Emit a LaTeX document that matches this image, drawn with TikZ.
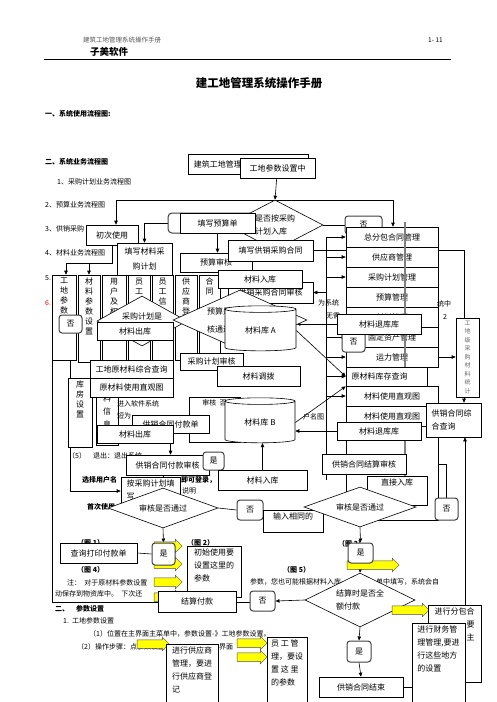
\documentclass[tikz,border=0pt]{standalone}
\usepackage{fontspec}
\setmainfont{Noto Sans CJK SC}
\usepackage{tikz}
\usetikzlibrary{shapes.geometric, shapes.arrows, arrows.meta, backgrounds}
\definecolor{hdrgray}{HTML}{555555}
\definecolor{linegray}{HTML}{808080}
\definecolor{ylw}{HTML}{FFFF00}
\tikzstyle{box}  = [rectangle, draw, fill=white, line width=0.6pt, inner sep=1pt,
                    font=\fontsize{8}{10}\selectfont]
\tikzstyle{rbox} = [rectangle, rounded corners=3pt, draw=black!75, fill=white,
                    line width=1pt, inner sep=1pt, font=\fontsize{8}{10}\selectfont]
\tikzstyle{dia}  = [diamond, draw, fill=white, line width=0.6pt, inner sep=0pt,
                    font=\fontsize{8}{13}\selectfont]
\tikzstyle{cyl}  = [cylinder, shape border rotate=90, aspect=0.2, draw, fill=white,
                    line width=0.6pt, inner sep=1pt, font=\fontsize{8}{10}\selectfont]
\tikzstyle{yarrow} = [single arrow, draw=black!70, fill=ylw, line width=0.5pt,
                      inner xsep=0pt, inner ysep=4pt, single arrow head extend=2.5pt,
                      single arrow head indent=0pt]
\tikzstyle{tlab} = [anchor=north, align=left, inner sep=3pt, font=\fontsize{8}{13}\selectfont]
\tikzstyle{vlab} = [anchor=north, align=center, inner sep=3pt, font=\fontsize{8}{10}\selectfont]
\tikzstyle{txt}  = [anchor=west, inner sep=0pt, font=\fontsize{7}{9}\selectfont]
\tikzstyle{btxt} = [anchor=west, inner sep=0pt, font=\bfseries\fontsize{7}{9}\selectfont]
\tikzstyle{arrow} = [-{Triangle[length=4pt,width=3.5pt]}, line width=0.6pt]
\tikzstyle{link}  = [line width=0.6pt]

\begin{document}
\begin{tikzpicture}[x=1pt, y=-1pt]
  \useasboundingbox (0,0) rectangle (496,702);

  %% page header
  \node[txt, font=\fontsize{6.5}{8}\selectfont, text=hdrgray] (hdrname) at (83,40) {建筑工地管理系统操作手册};
  \node[txt, font=\fontsize{6.5}{8}\selectfont] (pageno) at (428,40) {1- 11};
  \node[btxt, font=\bfseries\fontsize{9.5}{11}\selectfont] (brand) at (90,52) {子美软件};
  \coordinate (ruleL) at (44,59);
  \coordinate (ruleR) at (451,59);
  \draw[line width=0.8pt] (ruleL) -- (ruleR);
  \node[font=\bfseries\fontsize{11.5}{13}\selectfont] (title) at (259,83) {建工地管理系统操作手册};

  \node[btxt] (sec1) at (45,114) {一、系统使用流程图:};
  \node[btxt] (sec2) at (45,162) {二、系统业务流程图};
  \node[txt] (item1) at (57,182) {1、采购计划业务流程图};
  \node[txt] (item2) at (45,205) {2、预算业务流程图};
  \node[txt] (item3) at (45,229) {3、供销采购};
  \node[txt] (item4) at (45,253) {4、材料业务流程图};
  \node[txt] (item5) at (45,278) {5.};
  \node[txt, text=red] (item6) at (45,303) {6.};

  %% frame of the usage chart
  \draw[link] (52,360) -- (52,602) -- (250,602);

  %% usage chart columns
  \node[box, minimum width=24pt, minimum height=85pt, label={[vlab]north:{工\\地\\参\\数}}] (colsite) at (64,317.5) {};
  \node[box, minimum width=22pt, minimum height=87pt, label={[vlab]north:{材\\料\\参\\数\\设\\置}}] (colmat) at (89,318.5) {};
  \node[box, minimum width=24pt, minimum height=85pt, label={[vlab]north:{用\\户\\及\\权}}] (coluser) at (114,317.5) {};
  \node[box, minimum width=22pt, minimum height=85pt, label={[vlab]north:{员\\工}}] (colstaff) at (139,317.5) {};
  \node[box, minimum width=21pt, minimum height=85pt, label={[vlab]north:{员\\工\\信}}] (colinfo) at (162.5,317.5) {};
  \node[box, minimum width=22pt, minimum height=85pt, label={[vlab]north:{供\\应\\商\\登\\记}}] (colsup) at (186,317.5) {};
  \node[box, minimum width=21pt, minimum height=85pt, label={[vlab]north:{合\\同}}] (colcon) at (209.5,317.5) {};

  %% planning part
  \node[box, minimum width=120pt, minimum height=20pt,
        label={[anchor=west, inner sep=6pt, font=\fontsize{8}{10}\selectfont]west:建筑工地管理}] (sysmgmt) at (248,164) {};
  \node[box, minimum width=75pt, minimum height=20pt] (paramset) at (277.5,168) {工地参数设置中};
  \node[dia, minimum width=96pt, minimum height=50pt, aspect=1.9, align=left] (dplan) at (275,225) {是否按采购\\计划入库};
  \node[rbox, minimum width=37pt, minimum height=18pt] (no1) at (363.5,225) {否};
  \node[rbox, rounded corners=4pt, minimum width=87pt, minimum height=20pt] (rbudget) at (211.5,223) {};
  \node[box, minimum width=75pt, minimum height=20pt] (budget) at (217.5,223) {填写预算单};
  \node[box, minimum width=52pt, minimum height=20pt] (firstuse) at (112,235) {初次使用};
  \node[box, minimum width=55pt, minimum height=32pt, align=center,
        font=\fontsize{8}{15}\selectfont] (planfill) at (144.5,259) {填写材料采\\购计划};
  \node[box, minimum width=72pt, minimum height=19pt] (budgetchk) at (216,262.5) {预算审核};
  \node[box, minimum width=85pt, minimum height=21pt] (contract) at (270.5,250.5) {填写供销采购合同};
  \node[box, minimum width=85pt, minimum height=21pt] (contractchk) at (270.5,292.5) {供销采购合同审核};
  \node[box, minimum width=84pt, minimum height=18pt] (matin1) at (260,279) {材料入库};

  %% middle part
  \node[dia, minimum width=90pt, minimum height=50pt, aspect=1.8, text depth=10pt] (dplan2) at (142,321) {采购计划是};
  \node[rbox, minimum width=23pt, minimum height=18pt] (no2) at (70.5,324) {否};
  \node[box, minimum width=76pt, minimum height=18pt] (matout1) at (135,331) {材料出库};
  \node[dia, minimum width=134pt, minimum height=60pt, aspect=2.2, align=left, text width=66pt,
        font=\fontsize{8}{18}\selectfont] (dbudget) at (240,320) {预算是否审\\核通过};
  \node[cyl, minimum width=71pt, minimum height=45pt] (liba) at (260.5,330.5) {材料库 A};
  \node[box, minimum width=63pt, minimum height=17pt] (planchk) at (211.5,361.5) {采购计划审核};
  \node[box, minimum width=83pt, minimum height=20pt] (matmove) at (258.5,376) {材料调拨};
  \node[box, minimum width=83pt, minimum height=18pt] (query) at (131.5,369) {工地原材料综合查询};
  \node[box, minimum width=24pt, minimum height=69pt, label={[vlab]north:{库\\房\\设\\置}}] (colhouse) at (80,412.5) {};
  \node[box, minimum width=22pt, minimum height=53pt,
        label={[vlab, font=\fontsize{8}{13}\selectfont]north:{料\\信\\息}}] (colmatinfo) at (107,418.5) {};
  \node[box, minimum width=83pt, minimum height=19pt] (usechart) at (131.5,387.5) {原材料使用直观图};

  %% background texts of the usage chart
  \node[txt] (enter) at (117,404) {进入软件系统};
  \node[txt] (enter2) at (117,416) {短为};
  \node[txt] (quit) at (68,456) {（5）\quad 退出：退出系统};
  \node[btxt] (pickuser) at (82,480) {选择用户名};
  \node[btxt] (login) at (181,480) {即可登录，};
  \node[txt] (explain) at (182,491) {说明};
  \node[btxt] (firsttime) at (87,507) {首次使用};

  %% payment part
  \node[box, minimum width=51pt, minimum height=45pt, label={[tlab, font=\fontsize{7}{9}\selectfont]north:审核\ \ 否}] (bgchk) at (214.5,419.5) {};
  \node[box, minimum width=77pt, minimum height=18pt] (paybill) at (170.5,424) {供销合同付款单};
  \node[box, minimum width=76pt, minimum height=18pt] (matout2) at (135,434) {材料出库};
  \node[cyl, minimum width=70pt, minimum height=45pt] (libb) at (260,422.5) {材料库 B};
  \node[box, minimum width=83pt, minimum height=20pt] (payaudit) at (167.5,465) {供销合同付款审核};
  \node[rbox, minimum width=21pt, minimum height=18pt] (yes1) at (213.5,461) {是};
  \node[box, minimum width=59pt, minimum height=28pt, label={[tlab]north:{按采购计划填\\写}}] (planbox) at (150.5,491) {};
  \node[dia, minimum width=110pt, minimum height=40pt, aspect=2.75] (daudit1) at (163,508) {审核是否通过};
  \node[rbox, minimum width=26pt, minimum height=20pt] (no3) at (250,510) {否};
  \node[box, minimum width=89pt, minimum height=20pt] (matin2) at (262.5,480) {材料入库};
  \node[box, minimum width=60pt, minimum height=22pt, label={[tlab]north:输入相同的}] (sameinput) at (293,521) {};

  %% management list
  \node[box, minimum width=92pt, minimum height=20pt] (m1) at (392,237) {总分包合同管理};
  \node[box, minimum width=92pt, minimum height=20pt] (m2) at (392,257) {供应商管理};
  \node[box, minimum width=92pt, minimum height=20pt] (m3) at (392,277) {采购计划管理};
  \node[box, minimum width=92pt, minimum height=20pt] (m4) at (392,297) {预算管理};
  \node[box, minimum width=92pt, minimum height=20pt] (m5) at (392,317) {材料管理};
  \node[box, minimum width=92pt, minimum height=20pt] (m6) at (392,337) {固定资产管理};
  \node[box, minimum width=92pt, minimum height=20pt] (m7) at (392,357) {运力管理};
  \node[box, minimum width=92pt, minimum height=94pt] (mrest) at (392,473) {};
  \coordinate (grayT) at (405,222);
  \coordinate (grayB) at (405,485);
  \draw[line width=1.4pt, linegray] (grayT) -- (grayB);
  \node[box, minimum width=81pt, minimum height=19pt, align=left, text width=70pt] (m8) at (386.5,376.5) {原材料库存查询};
  \node[box, minimum width=92pt, minimum height=20pt] (m9) at (392,396) {材料使用直观图};
  \node[box, minimum width=92pt, minimum height=20pt] (m10) at (392,416) {材料使用直观图};
  \node[txt] (bgsys) at (318,303) {为系统};
  \node[txt] (bgneed) at (326,316) {无需};
  \node[txt] (bgin) at (437,304) {统中};
  \node[txt] (bgtwo) at (443,317) {2};
  \node[txt] (bgname) at (303,417) {户名图};
  \node[rbox, minimum width=23pt, minimum height=20pt] (no4) at (353.5,342) {否};
  \node[box, minimum width=84pt, minimum height=20pt] (rtn1) at (379,324) {材料退库库};
  \node[box, minimum width=84pt, minimum height=18pt] (rtn2) at (379,431) {材料退库库};
  \node[box, minimum width=84pt, minimum height=20pt] (settle) at (364,464) {供销合同结算审核};
  \node[box, minimum width=60pt, minimum height=29pt, label={[tlab]north:直接入库}] (direct) at (397,490.5) {};
  \node[dia, minimum width=112pt, minimum height=40pt, aspect=2.8] (daudit2) at (360,507) {审核是否通过};
  \node[rbox, minimum width=23pt, minimum height=22pt] (no5) at (446.5,509) {否};
  \node[box, minimum width=55pt, minimum height=34pt, align=left, text width=44pt,
        font=\fontsize{8}{13}\selectfont] (sumquery) at (453.5,420) {供销合同综\\合查询};
  \node[box, minimum width=23pt, minimum height=79pt, align=center, text=black!60,
        font=\fontsize{6}{8.5}\selectfont] (stat) at (467.5,357.5) {工\\地\\级\\采\\购\\材\\料\\统\\计};

  %% lower left
  \node[btxt] (fig1) at (77,543) {（图 1）};
  \node[box, minimum width=77pt, minimum height=20pt] (printbill) at (98.5,553) {查询打印付款单};
  \node[yarrow, minimum height=28pt] (yarr1) at (166,546) {};
  \node[yarrow, minimum height=28pt] (yarr2) at (166,564) {};
  \node[rbox, minimum width=23pt, minimum height=22pt] (yes2) at (163.5,554) {是};
  \node[btxt] (fig4) at (77,570) {（图 4）};
  \node[btxt] (fig2) at (187,543) {（图 2）};
  \node[box, minimum width=54pt, minimum height=51pt, label={[tlab]north:{初始使用要\\设置这里的\\参数}}] (initbox) at (214,571.5) {};
  \node[txt] (note1) at (67,583) {注：\ \ 对于原材料参数设置};
  \node[txt] (note2) at (55,594) {动保存到物资库中。\ \ 下次还};
  \node[yarrow, minimum height=28pt] (yarr3) at (166,582) {};
  \node[yarrow, minimum height=28pt] (yarr4) at (166,597) {};
  \node[box, minimum width=78pt, minimum height=21pt] (payfinal) at (197,601.5) {结算付款};

  %% parameter section
  \node[btxt] (sec3) at (55,609) {二、\quad 参数设置};
  \node[txt] (par1) at (63,621) {1.\ \ 工地参数设置};
  \node[txt] (par2) at (89,634) {（1）位置在主界面主菜单中，参数设置-》工地参数设置。};
  \node[txt] (par3) at (77,647) {（2）操作步骤：点参数设置};
  \node[txt] (par3b) at (219,647) {界面};
  \node[yarrow, minimum height=32pt] (yarr5) at (151,644) {};
  \node[box, minimum width=52pt, minimum height=62pt,
        label={[tlab]north:{进行供应商\\管理，要进\\行供应商登\\记}}] (supbox) at (192,675) {};
  \node[yarrow, minimum height=30pt] (yarr6) at (250,643) {};
  \node[yarrow, minimum height=30pt] (yarr7) at (250,657) {};
  \node[box, minimum width=40pt, minimum height=68pt,
        label={[tlab]north:{员\ 工\ 管\\理，要设\\置\ 这\ 里\\的参数}}] (empbox) at (287,671) {};

  %% lower right
  \node[txt] (note3) at (250,582) {参数，您也可能根据材料入库};
  \node[txt] (note4) at (376,582) {单中填写，系统会自};
  \node[btxt] (fig3) at (338,544) {（图 3）};
  \node[btxt] (fig5) at (283,570) {（图 5）};
  \node[yarrow, minimum height=52pt] (yarr8) at (371,565) {};
  \node[rbox, minimum width=25pt, minimum height=20pt] (yes3) at (360.5,553) {是};
  \node[dia, minimum width=110pt, minimum height=54pt, aspect=2, align=left] (dfull) at (360,600) {结算时是否全\\额付款};
  \node[rbox, minimum width=25pt, minimum height=20pt] (no6) at (262.5,601) {否};
  \node[yarrow, minimum height=37pt] (yarr9) at (408.5,610) {};
  \node[box, minimum width=53pt, minimum height=77pt,
        label={[tlab]north:{进行分包合\\\makebox[40pt][r]{要}\\\makebox[40pt][r]{主}}}] (fenbao) at (454.5,643.5) {};
  \node[box, minimum width=53pt, minimum height=80pt,
        label={[tlab]north:{进行财务管\\理管理,要进\\行这些地方\\的设置}}] (finance) at (438.5,663) {};
  \node[rbox, minimum width=24pt, minimum height=21pt] (yes4) at (359,651.5) {是};
  \node[box, minimum width=84pt, minimum height=20pt] (end) at (361,687) {供销合同结束};

  %% connectors
  \begin{scope}[on background layer]
    \coordinate (topL) at (116,200);
    \coordinate (topR) at (393,200);
    \coordinate (rowL) at (66,263);
    \coordinate (rowR) at (112,263);
    \coordinate (trunkT) at (326,238);
    \coordinate (trunkB) at (326,480);
    \coordinate (sumtop) at (464,250.5);
    \coordinate (upline) at (465,605);
    \draw[arrow] (paramset) -- (dplan.north);
    \draw[link] (topL) -- (topR);
    \draw[arrow] (topL) -- (topL |- firstuse.north);
    \draw[arrow] (topR) -- (topR |- m1.north);
    \draw[link] (dplan.east) -- (no1.west);
    \draw[arrow] (rbudget.west) -| (planfill.north);
    \draw[link] (firstuse.south) -- (rowR) -- (rowL);
    \draw[arrow] (rowL) -- (rowL |- colsite.north);
    \draw[arrow] (colmat.north |- rowL) -- (colmat.north);
    \draw[arrow] (budget.south) -- (budget.south |- budgetchk.north);
    \draw[arrow] (contract.east) -- (sumtop) -- (sumtop |- sumquery.north);
    \draw[link] (trunkT) -- (trunkB);
    \foreach \row in {m1,m2,m3,m6,m7,m8,m9}
      \draw[arrow] (trunkT |- \row.west) -- (\row.west);
    \draw[arrow] (trunkT |- contractchk.east) -- (contractchk.east);
    \draw[arrow] (m7.east) -- (m7.east -| stat.west);
    \draw[arrow] (upline) -- (upline |- sumquery.south);
    \draw[arrow] (rtn1.west) -- (rtn1.west -| liba.east);
    \draw[arrow] (rtn2.west) -- (rtn2.west -| libb.east);
    \draw[arrow] (liba.east) -- (m8.west);
    \draw[arrow] (libb.east) -- (m8.south west);
    \draw[arrow] (dplan2.west) -- (no2.east);
    \draw[arrow] (paybill.south |- matout2.south) -- (paybill.south |- payaudit.north);
    \draw[arrow] (daudit1.north |- payaudit.south) -- (daudit1.north);
    \draw[link] (daudit1.east) -- (no3.west);
    \draw[arrow] (daudit1.south) -- (yes2.north);
    \draw[link] (printbill.east) -- (yes2.west);
    \draw[arrow] (no2.south) |- (planbox.west);
    \draw[arrow] (matin2.north) -- (matin2.north |- libb.south);
    \draw[arrow] (daudit2.north |- rtn2.south) -- (daudit2.north |- settle.north);
    \draw[arrow] (daudit2.north |- settle.south) -- (daudit2.north);
    \draw[arrow] (daudit2.east) -- (no5.west);
    \draw[arrow] (no5.north) |- (settle.east);
    \draw[arrow] (daudit2.south) -- (yes3.north);
    \draw[arrow] (yes3.south) -- (dfull.north);
    \draw[arrow] (dfull.west) -- (no6.east);
    \draw[arrow] (dfull.south) -- (yes4.north);
    \draw[arrow] (yes4.south) -- (end.north);
    \draw[link] (end.east) -- (end.east -| finance.west);
  \end{scope}

\end{tikzpicture}
\end{document}
